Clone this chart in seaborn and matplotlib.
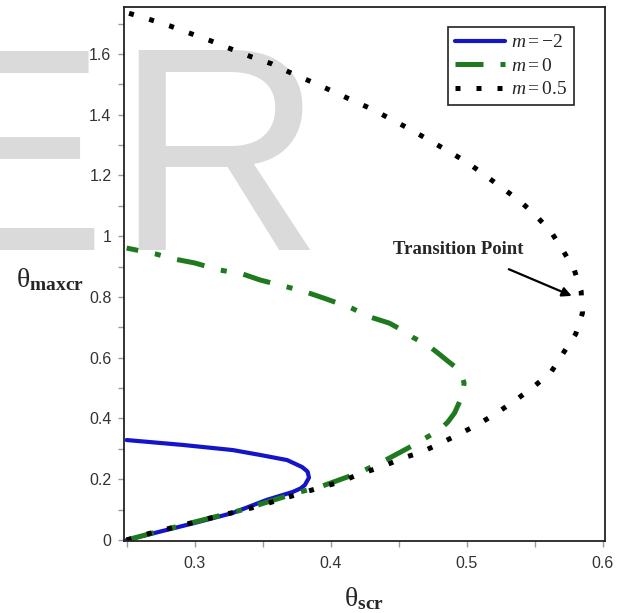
import matplotlib
matplotlib.use('Agg')
import matplotlib.pyplot as plt
import matplotlib.ticker as mticker
import seaborn as sns

# Curve points (theta_scr, theta_maxcr)
blue_x = [0.25, 0.30, 0.328, 0.353, 0.372, 0.378, 0.381, 0.384, 0.383, 0.379, 0.368, 0.348,
          0.328, 0.291, 0.25]
blue_y = [0.0, 0.056, 0.089, 0.132, 0.158, 0.170, 0.181, 0.205, 0.225, 0.240, 0.263, 0.280,
          0.296, 0.313, 0.329]

green_x = [0.25, 0.291, 0.335, 0.375, 0.394, 0.412, 0.425, 0.442, 0.457, 0.471, 0.480, 0.486,
           0.491, 0.494, 0.497, 0.498, 0.496, 0.492, 0.486, 0.480, 0.474, 0.467, 0.460, 0.452,
           0.443, 0.429, 0.415, 0.397, 0.382, 0.368, 0.348, 0.335, 0.318, 0.300, 0.285, 0.271,
           0.25]
green_y = [0.0, 0.049, 0.099, 0.155, 0.178, 0.207, 0.230, 0.267, 0.303, 0.339, 0.362, 0.388,
           0.418, 0.448, 0.480, 0.517, 0.545, 0.568, 0.589, 0.611, 0.632, 0.651, 0.668, 0.692,
           0.714, 0.734, 0.764, 0.793, 0.816, 0.833, 0.856, 0.876, 0.889, 0.912, 0.925, 0.942,
           0.961]

black_x = [0.25, 0.268, 0.315, 0.345, 0.362, 0.391, 0.407, 0.421, 0.437, 0.452, 0.467, 0.481,
           0.496, 0.510, 0.523, 0.537, 0.549, 0.562, 0.571, 0.580, 0.585, 0.584, 0.579, 0.571,
           0.562, 0.551, 0.539, 0.526, 0.513, 0.500, 0.486, 0.472, 0.458, 0.444, 0.430, 0.415,
           0.401, 0.386, 0.371, 0.357, 0.342, 0.327, 0.312, 0.296, 0.282, 0.266, 0.251]
black_y = [0.0, 0.023, 0.076, 0.109, 0.132, 0.171, 0.191, 0.217, 0.240, 0.268, 0.290, 0.319,
           0.352, 0.385, 0.421, 0.464, 0.504, 0.553, 0.616, 0.678, 0.747, 0.820, 0.889, 0.951,
           1.014, 1.067, 1.116, 1.159, 1.202, 1.244, 1.281, 1.317, 1.353, 1.386, 1.419, 1.449,
           1.478, 1.508, 1.537, 1.567, 1.590, 1.616, 1.643, 1.669, 1.692, 1.715, 1.735]

labels = ['$m=-2$', '$m=0$', '$m=0.5$']
transition_point = (0.579, 0.80)
arrow_start = (0.529, 0.895)

sns.set_style('ticks')
plt.rcParams['font.family'] = ['Liberation Sans', 'DejaVu Sans']
plt.rcParams['mathtext.fontset'] = 'custom'
plt.rcParams['mathtext.rm'] = 'Liberation Serif'
plt.rcParams['mathtext.it'] = 'Liberation Serif:italic'
plt.rcParams['mathtext.bf'] = 'Liberation Serif:bold'

fig = plt.figure(figsize=(6.29, 6.13), dpi=100)
fig.patch.set_facecolor('white')
ax = fig.add_axes([0.197, 0.1175, 0.7647, 0.8711])
ax.set_facecolor('none')

# faint watermark behind the plot
fig.text(-0.138, 0.592, 'E', fontsize=208, color='#dadada', zorder=-5,
         ha='left', va='baseline', family='Liberation Sans')
fig.text(0.181, 0.592, 'R', fontsize=208, color='#dadada', zorder=-5,
         ha='left', va='baseline', family='Liberation Sans')

sns.lineplot(x=blue_x, y=blue_y, sort=False, estimator=None, ax=ax,
             color='#1414c8', linewidth=3, label=labels[0])
sns.lineplot(x=green_x, y=green_y, sort=False, estimator=None, ax=ax,
             color='#1f7a1f', linewidth=3.6, label=labels[1],
             linestyle=(0, (5.6, 3.4, 1.2, 3.4)), dash_capstyle='butt')
sns.lineplot(x=black_x, y=black_y, sort=False, estimator=None, ax=ax,
             color='black', linewidth=3.6, label=labels[2],
             linestyle=(0, (1.0, 3.2)), dash_capstyle='butt')

ax.set_xlim(0.248, 0.6015)
ax.set_ylim(-0.0033, 1.7547)
ax.xaxis.set_major_locator(mticker.MultipleLocator(0.1))
ax.xaxis.set_minor_locator(mticker.MultipleLocator(0.05))
ax.yaxis.set_major_locator(mticker.MultipleLocator(0.2))
ax.yaxis.set_minor_locator(mticker.MultipleLocator(0.1))
fmt = mticker.FuncFormatter(lambda v, p: '%g' % round(v, 3))
ax.xaxis.set_major_formatter(fmt)
ax.yaxis.set_major_formatter(fmt)
ax.tick_params(which='both', direction='out', length=4, width=1, color='#9a9a9a',
               labelsize=11.5, labelcolor='#333333')
ax.tick_params(axis='x', pad=7)
ax.tick_params(axis='y', pad=5)
for s in ax.spines.values():
    s.set_color('#222222')
    s.set_linewidth(1.3)

ax.set_xlabel(r'$\mathrm{\theta}_{\mathbf{scr}}$', fontsize=20, labelpad=10)
ax.text(-0.225, 0.49, r'$\mathrm{\theta}_{\mathbf{maxcr}}$', fontsize=20,
        transform=ax.transAxes, ha='left', va='center')

ax.text(0.4934, 0.955, 'Transition Point', fontsize=13.5, fontweight='bold',
        family='Liberation Serif', ha='center', va='center')
ax.annotate('', xy=transition_point, xytext=arrow_start,
            arrowprops=dict(arrowstyle='-|>', color='black', lw=1.6, mutation_scale=14))

leg = ax.legend(loc='upper right', bbox_to_anchor=(0.9356, 0.9625), borderaxespad=0,
                fontsize=14, frameon=True, fancybox=False, framealpha=1,
                handlelength=2.6, handletextpad=0.3, labelspacing=0.3, borderpad=0.35)
leg.get_frame().set_edgecolor('#222222')
leg.get_frame().set_linewidth(1.2)

fig.savefig('out.png', dpi=100, facecolor='white')
